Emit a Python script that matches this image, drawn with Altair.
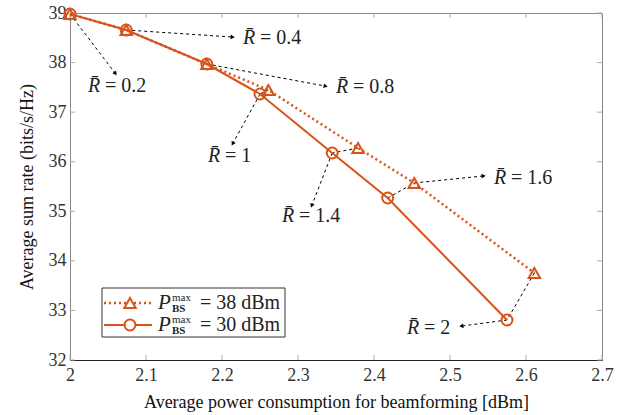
import math
import altair as alt
import pandas as pd

# ---- data ----
x_38 = [2.0, 2.074, 2.18, 2.261, 2.379, 2.453, 2.611]
y_38 = [38.98, 38.657, 37.971, 37.447, 36.277, 35.571, 33.755]
x_30 = [2.0, 2.074, 2.18, 2.25, 2.345, 2.418, 2.575]
y_30 = [38.98, 38.657, 37.971, 37.366, 36.176, 35.268, 32.807]
r_values = ["0.2", "0.4", "0.8", "1", "1.4", "1.6", "2"]

# annotation arrows: start series order (first -> via -> tip), tips & label anchors (data units)
arrow_paths = [["30"], ["38"], ["38"], ["38", "30"], ["38", "30"], ["30", "38"], ["38", "30"]]
tip_x = [2.0592, 2.2132, 2.3355, 2.2145, 2.3184, 2.5434, 2.5158]
tip_y = [37.790, 38.516, 37.527, 36.377, 35.127, 35.712, 32.686]
lab_x = [2.0237, 2.2276, 2.35, 2.1816, 2.2789, 2.5579, 2.4434]
lab_y = [37.527, 38.496, 37.507, 36.115, 34.905, 35.671, 32.645]

x_ticks = [2.0, 2.1, 2.2, 2.3, 2.4, 2.5, 2.6, 2.7]
y_ticks = [32, 33, 34, 35, 36, 37, 38, 39]

W, H = 532, 347
XD, YD = [2.0, 2.7], [32, 39]
COL = "#D95319"
FONT = "Liberation Serif"

xs = alt.Scale(domain=XD, nice=False, zero=False)
ys = alt.Scale(domain=YD, nice=False, zero=False)

series = {"38": (x_38, y_38), "30": (x_30, y_30)}

# ---- segments ----
segs = []
heads = []
for i, path in enumerate(arrow_paths):
    pts = [(series[s][0][i], series[s][1][i]) for s in path] + [(tip_x[i], tip_y[i])]
    for (a, b), (c, d) in zip(pts[:-1], pts[1:]):
        segs.append({"x": a, "y": b, "x2": c, "y2": d})
    (a, b), (c, d) = pts[-2], pts[-1]
    dxp = (c - a) * W / (XD[1] - XD[0])
    dyp = -(d - b) * H / (YD[1] - YD[0])
    ang = math.degrees(math.atan2(dxp, -dyp)) % 360
    heads.append({"x": c, "y": d, "angle": ang})

seg_df = pd.DataFrame(segs)
head_df = pd.DataFrame(heads)
lab_df = pd.DataFrame({"x": lab_x, "y": lab_y, "r": ["R\u0304"] * 7,
                       "rest": ["= " + v for v in r_values]})

df38 = pd.DataFrame({"x": x_38, "y": y_38})
df30 = pd.DataFrame({"x": x_30, "y": y_30})

X = alt.X("x:Q", scale=xs, title="Average power consumption for beamforming [dBm]",
          axis=alt.Axis(values=x_ticks, format=".1~f", ticks=False, grid=False,
                        domainColor="#222", labelPadding=6, titlePadding=9))
Y = alt.Y("y:Q", scale=ys, title="Average sum rate (bits/s/Hz)",
          axis=alt.Axis(values=y_ticks, ticks=False, grid=False,
                        domainColor="#888", labelPadding=4, titlePadding=12))

base_axes = alt.Chart(df30).mark_point(opacity=0).encode(x=X, y=Y)

# inward ticks
xt = pd.DataFrame({"v": x_ticks})
yt = pd.DataFrame({"v": y_ticks})
tick_col = "#aaaaaa"
ticks = [
    alt.Chart(xt).mark_rule(color=tick_col).encode(x=alt.X("v:Q", scale=xs), y=alt.value(H), y2=alt.value(H - 5)),
    alt.Chart(xt).mark_rule(color=tick_col).encode(x=alt.X("v:Q", scale=xs), y=alt.value(0), y2=alt.value(5)),
    alt.Chart(yt).mark_rule(color=tick_col).encode(y=alt.Y("v:Q", scale=ys), x=alt.value(0), x2=alt.value(5)),
    alt.Chart(yt).mark_rule(color=tick_col).encode(y=alt.Y("v:Q", scale=ys), x=alt.value(W), x2=alt.value(W - 5)),
]

arrows = alt.Chart(seg_df).mark_rule(color="black", strokeWidth=1, strokeDash=[3, 3]).encode(
    x=alt.X("x:Q", scale=xs), y=alt.Y("y:Q", scale=ys), x2="x2:Q", y2="y2:Q")
arrowheads = alt.Chart(head_df).mark_point(shape="triangle", filled=True, color="black", size=22, opacity=1).encode(
    x=alt.X("x:Q", scale=xs), y=alt.Y("y:Q", scale=ys), angle=alt.Angle("angle:Q", scale=None))

lab_r = alt.Chart(lab_df).mark_text(fontSize=20, fontStyle="italic", align="left",
                                    baseline="middle", color="#222").encode(
    x=alt.X("x:Q", scale=xs), y=alt.Y("y:Q", scale=ys), text="r:N")
lab_rest = alt.Chart(lab_df).mark_text(fontSize=20, align="left", baseline="middle",
                                       dx=17, color="#222").encode(
    x=alt.X("x:Q", scale=xs), y=alt.Y("y:Q", scale=ys), text="rest:N")

line38 = alt.Chart(df38).mark_line(color=COL, strokeWidth=2.5, strokeDash=[2, 3]).encode(
    x=alt.X("x:Q", scale=xs), y=alt.Y("y:Q", scale=ys))
line30 = alt.Chart(df30).mark_line(color=COL, strokeWidth=2).encode(
    x=alt.X("x:Q", scale=xs), y=alt.Y("y:Q", scale=ys))
pts38 = alt.Chart(df38).mark_point(shape="triangle-up", filled=False, color=COL, strokeWidth=2,
                                   size=130, opacity=1).encode(x=alt.X("x:Q", scale=xs), y=alt.Y("y:Q", scale=ys))
pts30 = alt.Chart(df30).mark_point(shape="circle", filled=False, color=COL, strokeWidth=2,
                                   size=120, opacity=1).encode(x=alt.X("x:Q", scale=xs), y=alt.Y("y:Q", scale=ys))

# ---- manual legend ----
one = pd.DataFrame({"a": [0]})
legend_names = ["38", "30"]
rows_y = [290, 312]
leg = [alt.Chart(one).mark_rect(fill="white", stroke="#333", strokeWidth=1).encode(
    x=alt.value(32), x2=alt.value(215), y=alt.value(275), y2=alt.value(324))]
for name, ry in zip(legend_names, rows_y):
    dash = [2, 3] if name == "38" else [1, 0]
    leg.append(alt.Chart(one).mark_rule(color=COL, strokeWidth=2.5 if name == "38" else 2, strokeDash=dash).encode(
        x=alt.value(34), x2=alt.value(82), y=alt.value(ry)))
    leg.append(alt.Chart(one).mark_point(shape="triangle-up" if name == "38" else "circle", filled=True,
                                         fill="white", stroke=COL, strokeWidth=2,
                                         size=130 if name == "38" else 120, opacity=1).encode(
        x=alt.value(60), y=alt.value(ry)))
    leg.append(alt.Chart(one).mark_text(text="P", fontStyle="italic", fontSize=21, align="left",
                                        baseline="middle", color="#222").encode(x=alt.value(88), y=alt.value(ry)))
    leg.append(alt.Chart(one).mark_text(text="max", fontSize=11, align="left",
                                        baseline="middle", color="#222").encode(x=alt.value(102), y=alt.value(ry - 5)))
    leg.append(alt.Chart(one).mark_text(text="BS", fontSize=11, fontWeight="bold", align="left",
                                        baseline="middle", color="#222").encode(x=alt.value(102), y=alt.value(ry + 6)))
    leg.append(alt.Chart(one).mark_text(text=f"= {name} dBm", fontSize=20, align="left",
                                        baseline="middle", color="#222").encode(x=alt.value(130), y=alt.value(ry)))

chart = alt.layer(base_axes, *ticks, arrows, arrowheads, line38, line30, pts38, pts30,
                  lab_r, lab_rest, *leg).properties(
    width=W, height=H, autosize="none", background="white",
    padding={"left": 70, "top": 13, "right": 25, "bottom": 55},
).configure_view(stroke="#888", strokeWidth=1).configure_axis(
    labelFont=FONT, titleFont=FONT, labelFontSize=18, titleFontSize=18,
    labelColor="#333", titleColor="#111", titleFontWeight="normal", labelFlush=False
).configure_text(font=FONT).configure_mark(font=FONT)

chart.save("out.html", embed_options={"renderer": "svg", "actions": False})
